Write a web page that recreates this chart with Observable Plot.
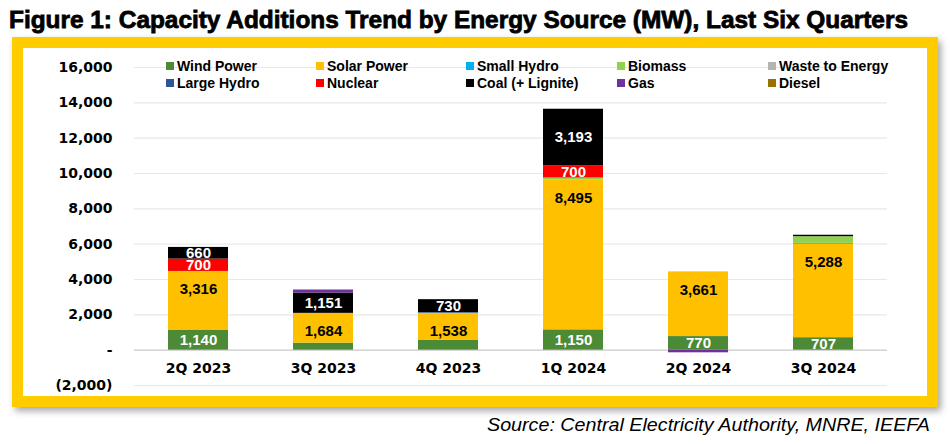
<!DOCTYPE html>
<html>
<head>
<meta charset="utf-8">
<script src="https://cdn.jsdelivr.net/npm/d3@7"></script>
<script src="https://cdn.jsdelivr.net/npm/@observablehq/plot@0.6"></script>
<style>
  html, body { margin: 0; padding: 0; background: #fff; width: 950px; height: 444px; overflow: hidden; }
  body { position: relative; font-family: "Liberation Sans", Arial, sans-serif; }
  #title { position: absolute; left: 0; top: 0; }
  #frame { position: absolute; left: 12px; top: 37px; width: 926px; height: 370px; box-sizing: border-box;
           border: 11px solid #ffcc00; background: #fff; box-shadow: 3px 4px 7px rgba(0,0,0,0.35); }
  #chart { position: absolute; left: 0; top: 0; }
  #legend { position: absolute; left: 0; top: 0; width: 904px; height: 60px; }
  .li { position: absolute; font-size: 14px; font-weight: bold; color: #000; white-space: nowrap; line-height: 16px; }
  .li i { display: inline-block; width: 8px; height: 8px; margin-right: 3px; vertical-align: 1px; }
  #source { position: absolute; left: 0; top: 408px; }
</style>
</head>
<body>
<svg id="title" width="950" height="36">
  <text x="9" y="28" textLength="899" lengthAdjust="spacingAndGlyphs"
        style="font-family: 'Liberation Sans', Arial, sans-serif; font-weight: 900; font-size: 24px; fill: #000; stroke: #000; stroke-width: 0.8px;">Figure 1: Capacity Additions Trend by Energy Source (MW), Last Six Quarters</text>
</svg>
<div id="frame">
  <div id="chart"></div>
  <div id="legend"></div>
</div>
<svg id="source" width="950" height="36">
  <text x="930" y="23" text-anchor="end" textLength="443" lengthAdjust="spacingAndGlyphs"
        style="font-family: 'Liberation Sans', Arial, sans-serif; font-style: italic; font-size: 19px; fill: #000;">Source: Central Electricity Authority, MNRE, IEEFA</text>
</svg>
<script>
// ---- Data (MW) ----
const quarters = ["2Q 2023", "3Q 2023", "4Q 2023", "1Q 2024", "2Q 2024", "3Q 2024"];
const sources = ["Wind Power", "Solar Power", "Small Hydro", "Biomass", "Waste to Energy",
                 "Large Hydro", "Nuclear", "Coal (+ Lignite)", "Gas", "Diesel"];
const colors = ["#4c8a35", "#ffc000", "#00b0f0", "#92d050", "#b4b4b4",
                "#2f5597", "#ff0000", "#000000", "#7030a0", "#997300"];

const windPower   = [1140,  400,  550, 1150,  770,  707];
const solarPower  = [3316, 1684, 1538, 8495, 3661, 5288];
const smallHydro  = [   0,    0,    0,    0,    0,   50];
const biomass     = [   0,    0,    0,  100,    0,  380];
const wasteEnergy = [   0,    0,    0,    0,    0,    0];
const largeHydro  = [   0,    0,   40,    0,    0,    0];
const nuclear     = [ 700,    0,    0,  700,    0,    0];
const coal        = [ 660, 1151,  730, 3193,    0,   80];
const gas         = [   0,  170,    0,    0, -150,    0];
const diesel      = [   0,    0,    0,    0,    0,    0];

const yTicks = [-2000, 0, 2000, 4000, 6000, 8000, 10000, 12000, 14000, 16000];

// ---- Build table ----
const seriesValues = [windPower, solarPower, smallHydro, biomass, wasteEnergy,
                      largeHydro, nuclear, coal, gas, diesel];
const rows = [];
sources.forEach((s, i) => quarters.forEach((q, j) => {
  rows.push({quarter: q, source: s, value: seriesValues[i][j]});
}));

const fmt = d3.format(",");
const tickFmt = v => v === 0 ? "-" : v < 0 ? `(${fmt(-v)})` : fmt(v);
const whiteLabelled = new Set(["Wind Power", "Nuclear", "Coal (+ Lignite)"]);
const axisFont = "'DejaVu Sans', sans-serif";

const chart = Plot.plot({
  width: 904,
  height: 348,
  marginTop: 19,
  marginBottom: 11,
  marginLeft: 111,
  marginRight: 40,
  style: {fontFamily: "'Liberation Sans', Arial, sans-serif", fontSize: "15px", fontWeight: "bold", color: "#000", background: "transparent"},
  x: {domain: quarters, paddingInner: 0.52, paddingOuter: 0.26, label: null},
  y: {domain: [-2000, 16000], label: null},
  color: {domain: sources, range: colors},
  marks: [
    Plot.gridY(yTicks, {stroke: "#e8e8e8", strokeOpacity: 1, strokeWidth: 1.2}),
    Plot.ruleY([0], {stroke: "#d6d6d6", strokeWidth: 1.5}),
    Plot.barY(rows, {x: "quarter", y: "value", fill: "source", order: sources}),
    Plot.text(rows, Plot.stackY({
      x: "quarter", y: "value", z: "source", order: sources,
      text: d => (whiteLabelled.has(d.source) && d.value >= 600) ? fmt(d.value) : null,
      fill: "white", fontSize: 15, fontWeight: "bold"
    })),
    Plot.text(rows, Plot.stackY2({
      x: "quarter", y: "value", z: "source", order: sources,
      text: d => d.source === "Solar Power" ? fmt(d.value) : null,
      fill: "black", fontSize: 15, fontWeight: "bold", dy: 18
    })),
    Plot.axisY(yTicks, {tickSize: 0, tickPadding: 22, tickFormat: tickFmt, fontSize: 14, fontWeight: "bold", fontFamily: axisFont, label: null}),
    Plot.axisX({tickSize: 0, tickPadding: 0, dy: -22, fontSize: 14, fontWeight: "bold", fontFamily: axisFont, label: null})
  ]
});
document.getElementById("chart").appendChild(chart);

// ---- Legend (HTML, positioned over the plot top) ----
const legend = document.getElementById("legend");
const colX = [143, 293, 443, 594, 745];
const rowY = [10, 27];
sources.forEach((s, i) => {
  const el = document.createElement("div");
  el.className = "li";
  el.style.left = colX[i % 5] + "px";
  el.style.top = rowY[Math.floor(i / 5)] + "px";
  el.innerHTML = `<i style="background:${colors[i]}"></i>${s}`;
  legend.appendChild(el);
});
</script>
</body>
</html>
